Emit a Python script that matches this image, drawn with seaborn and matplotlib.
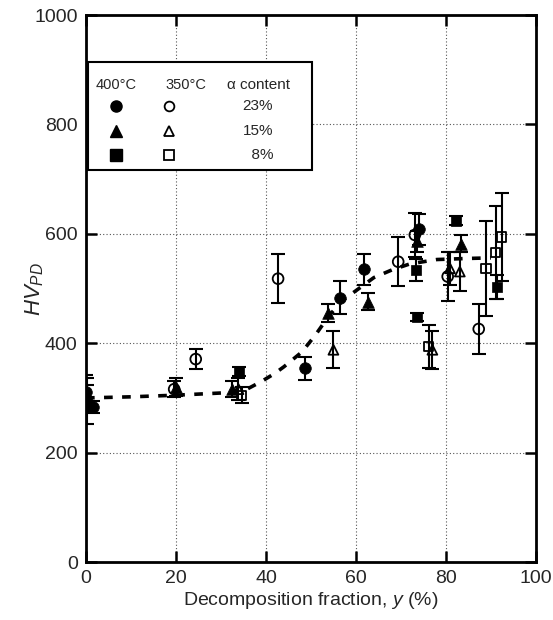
import numpy as np
import pandas as pd
import matplotlib
matplotlib.use('Agg')
import matplotlib.pyplot as plt
import seaborn as sns
from matplotlib.patches import Rectangle

# 400 C, alpha 23 % (filled circles)
x_c400 = [0.0, 1.5, 48.6, 56.4, 61.9, 74.1]
y_c400 = [310, 283, 354, 483, 535, 608]
e_c400 = [32, 11, 21, 30, 28, 28]

# 400 C, alpha 15 % (filled triangles)
x_t400 = [0.2, 20.1, 32.4, 53.9, 62.7, 73.5, 83.3]
y_t400 = [300, 320, 316, 455, 476, 586, 582]
e_t400 = [24, 17, 15, 16, 15, 20, 15]

# 400 C, alpha 8 % (filled squares)
x_s400 = [0.3, 34.1, 73.3, 73.6, 82.2, 91.3]
y_s400 = [294, 348, 534, 448, 624, 502]
e_s400 = [42, 8, 20, 8, 8, 22]

# 350 C, alpha 23 % (open circles)
x_c350 = [19.6, 24.4, 42.7, 69.4, 73.1, 80.4, 87.3]
y_c350 = [316, 371, 518, 549, 598, 522, 426]
e_c350 = [15, 19, 45, 45, 40, 45, 46]

# 350 C, alpha 15 % (open triangles)
x_t350 = [33.9, 55.0, 77.0, 80.9, 83.1]
y_t350 = [316, 388, 388, 537, 531]
e_t350 = [20, 34, 35, 30, 35]

# 350 C, alpha 8 % (open squares)
x_s350 = [34.6, 76.2, 88.9, 91.1, 92.4]
y_s350 = [305, 394, 537, 566, 594]
e_s350 = [15, 40, 87, 85, 81]

# dashed guide curve
x_fit = [0, 10, 20, 30, 36, 39, 42, 44, 48, 51, 54, 57, 61, 64, 68, 72, 78, 85, 90]
y_fit = [300, 302, 305, 309, 317, 330, 345, 357, 384, 415, 450, 478, 502, 520, 534, 545, 553, 555, 556]

alpha_labels = ['23%', '15%', '  8%']

sns.set_theme(style='ticks')
plt.rcParams['font.family'] = ['Liberation Sans', 'DejaVu Sans']
plt.rcParams['mathtext.fontset'] = 'custom'
plt.rcParams['mathtext.it'] = 'Liberation Sans:italic'
plt.rcParams['mathtext.rm'] = 'Liberation Sans'

groups = [
    (x_c400, y_c400, e_c400, 'o', True, 70),
    (x_t400, y_t400, e_t400, '^', True, 70),
    (x_s400, y_s400, e_s400, 's', True, 60),
    (x_c350, y_c350, e_c350, 'o', False, 60),
    (x_t350, y_t350, e_t350, '^', False, 50),
    (x_s350, y_s350, e_s350, 's', False, 45),
]

fig = plt.figure(figsize=(5.53, 6.2), dpi=100)
ax = fig.add_axes([0.1555, 0.0935, 0.8135, 0.8823])

ax.grid(True, color='#555555', linestyle=(0, (1, 2)), linewidth=0.8)
ax.set_axisbelow(True)

sns.lineplot(x=x_fit, y=y_fit, ax=ax, color='black', linewidth=2.6,
             linestyle=(0, (2.4, 2.6)), zorder=2)

for xs, ys, es, mk, filled, size in groups:
    ax.errorbar(xs, ys, yerr=es, fmt='none', ecolor='black', elinewidth=1.5,
                capsize=5, capthick=1.5, zorder=3)
    df = pd.DataFrame({'x': xs, 'y': ys})
    if filled:
        sns.scatterplot(data=df, x='x', y='y', marker=mk, s=size, color='black',
                        edgecolor='black', linewidth=0.5, ax=ax, zorder=4)
    else:
        sns.scatterplot(data=df, x='x', y='y', marker=mk, s=size, facecolor='none',
                        edgecolor='black', linewidth=1.3, ax=ax, zorder=4)

ax.set_xlim(0, 100)
ax.set_ylim(0, 1000)
ax.set_xticks([0, 20, 40, 60, 80, 100])
ax.set_yticks([0, 200, 400, 600, 800, 1000])
ax.tick_params(direction='in', length=8, width=1.8, labelsize=14, pad=6,
               top=True, right=True, color='black')
for sp in ax.spines.values():
    sp.set_linewidth(2)
    sp.set_color('black')
    sp.set_visible(True)

ax.set_xlabel('Decomposition fraction, $y$ (%)', fontsize=14, labelpad=2)
ax.set_ylabel('$HV_{PD}$', fontsize=16)
ax.yaxis.set_label_coords(-0.09, 0.5)

# legend table
ax.add_patch(Rectangle((0.004, 0.717), 0.498, 0.198, transform=ax.transAxes,
                       facecolor='white', edgecolor='black', linewidth=1.5, zorder=5))
col_f, col_o, col_t = 0.066, 0.184, 0.416
ax.text(col_f, 0.872, '400°C', transform=ax.transAxes, ha='center', va='center', fontsize=10.5, zorder=6)
ax.text(0.222, 0.872, '350°C', transform=ax.transAxes, ha='center', va='center', fontsize=10.5, zorder=6)
ax.text(0.313, 0.872, 'α content', transform=ax.transAxes, ha='left', va='center', fontsize=11, zorder=6)
rows = [0.834, 0.788, 0.744]
for (mk, lab, row) in zip(['o', '^', 's'], alpha_labels, rows):
    ax.plot([col_f], [row], marker=mk, markersize=8, color='black', linestyle='none',
            transform=ax.transAxes, zorder=6)
    ax.plot([col_o], [row], marker=mk, markersize=7, markerfacecolor='none',
            markeredgecolor='black', markeredgewidth=1.3, linestyle='none',
            transform=ax.transAxes, zorder=6)
    ax.text(col_t, row, lab, transform=ax.transAxes, ha='right', va='center', fontsize=11, zorder=6)

fig.savefig('out.png', dpi=100)
